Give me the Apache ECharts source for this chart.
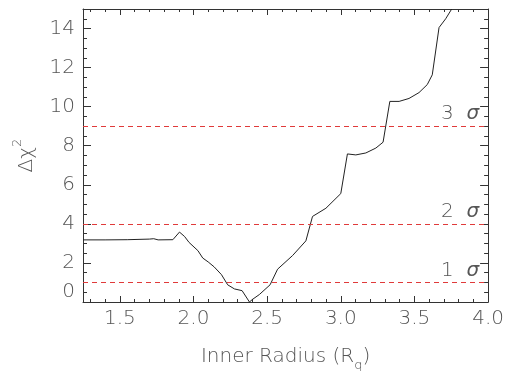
<!DOCTYPE html>
<html>
<head>
<meta charset="utf-8">
<script src="https://cdn.jsdelivr.net/npm/echarts@6/dist/echarts.min.js"></script>
<style>html,body{margin:0;padding:0;background:#fff}#c{width:507px;height:377px}</style>
</head>
<body>
<div id="c"></div>
<script>
// Data
const radius = [1.25,1.40,1.55,1.70,1.73,1.76,1.86,1.905,1.94,1.97,2.03,2.063,2.10,2.14,2.19,2.232,2.278,2.33,2.38,2.40,2.447,2.52,2.571,2.673,2.763,2.808,2.899,3.0,3.045,3.102,3.17,3.238,3.287,3.333,3.396,3.463,3.531,3.587,3.621,3.667,3.712,3.753];
const deltaChi2 = [3.18,3.18,3.19,3.22,3.24,3.18,3.19,3.58,3.35,3.05,2.63,2.25,2.05,1.80,1.40,0.88,0.67,0.58,0.0,0.13,0.38,0.88,1.68,2.38,3.13,4.38,4.80,5.55,7.58,7.53,7.63,7.88,8.18,10.27,10.27,10.42,10.72,11.13,11.63,14.05,14.50,15.0];
const sigmaLevels = [1, 4, 9];
const sigmaNames = ['1', '2', '3'];
const xMajor = [1.5, 2.0, 2.5, 3.0, 3.5, 4.0];
const xMinor = [1.3,1.4,1.6,1.7,1.8,1.9,2.1,2.2,2.3,2.4,2.6,2.7,2.8,2.9,3.1,3.2,3.3,3.4,3.6,3.7,3.8,3.9];
const yMajor = [0, 2, 4, 6, 8, 10, 12, 14];
const yMinor = [0.5,1,1.5,2.5,3,3.5,4.5,5,5.5,6.5,7,7.5,8.5,9,9.5,10.5,11,11.5,12.5,13,13.5,14.5];

const FONT = 'DejaVu Sans';
const FW = 300;
const TXT = '#555';
const AX = '#333';
const DASH = '#e03a3a';
const xr = {min: 1.25, max: 4.0};
const yr = {min: 0, max: 15};

function xAx(pos, vals, len, withLine, withLabel) {
  const a = {
    type: 'value', position: pos, min: xr.min, max: xr.max, gridIndex: 0,
    splitLine: {show: false},
    axisLine: {show: withLine, onZero: false, lineStyle: {color: AX, width: 1}},
    axisTick: {show: true, inside: true, length: len, customValues: vals, lineStyle: {color: AX, width: 1}},
    axisLabel: {show: false}
  };
  if (withLabel) {
    a.axisLabel = {show: true, customValues: vals, margin: 7, fontFamily: FONT, fontWeight: FW, fontSize: 20, color: TXT,
      formatter: v => v.toFixed(1)};
    a.name = '{a|Inner Radius (R}{s|q}{a|)}';
    a.nameLocation = 'middle';
    a.nameGap = 45;
    a.nameTextStyle = {fontFamily: FONT, fontWeight: FW, fontSize: 20, color: TXT,
      rich: {a: {fontFamily: FONT, fontWeight: FW, fontSize: 20, color: TXT, verticalAlign: 'bottom', padding: [0,0,5,0]},
             s: {fontFamily: FONT, fontWeight: FW, fontSize: 13, color: TXT, verticalAlign: 'bottom'}}};
  }
  return a;
}
function yAx(pos, vals, len, withLine, withLabel) {
  const a = {
    type: 'value', position: pos, min: yr.min, max: yr.max, gridIndex: 0,
    splitLine: {show: false},
    axisLine: {show: withLine, onZero: false, lineStyle: {color: AX, width: 1}},
    axisTick: {show: true, inside: true, length: len, customValues: vals, lineStyle: {color: AX, width: 1}},
    axisLabel: {show: false}
  };
  if (withLabel) {
    a.axisLabel = {show: true, customValues: vals, margin: 8, fontFamily: FONT, fontWeight: FW, fontSize: 20, color: TXT,
      formatter: v => v === 0 ? '{z|0}' : String(v),
      rich: {z: {fontFamily: FONT, fontWeight: FW, fontSize: 20, color: TXT, padding: [0,0,20,0]}}};
    a.name = '{a|Δχ}{s|2}';
    a.nameLocation = 'middle';
    a.nameGap = 46;
    a.nameRotate = 90;
    a.nameTextStyle = {fontFamily: FONT, fontWeight: FW, fontSize: 20, color: TXT,
      rich: {a: {fontFamily: FONT, fontWeight: FW, fontSize: 20, color: TXT, verticalAlign: 'bottom', padding: [6,0,0,0]},
             s: {fontFamily: FONT, fontWeight: FW, fontSize: 13, color: TXT, verticalAlign: 'top'}}};
  }
  return a;
}

const points = radius.map((r, i) => [r, deltaChi2[i]]);

const chart = echarts.init(document.getElementById('c'), null, {renderer: 'canvas'});
chart.setOption({
  animation: false,
  backgroundColor: '#fff',
  grid: {left: 83, top: 9, right: 18, bottom: 68, containLabel: false},
  xAxis: [
    xAx('bottom', xMajor, 6, true, true),
    xAx('bottom', xMinor, 3, false, false),
    xAx('top', xMajor, 6, true, false),
    xAx('top', xMinor, 3, false, false)
  ],
  yAxis: [
    yAx('left', yMajor, 8, true, true),
    yAx('left', yMinor, 4, false, false),
    yAx('right', yMajor, 8, true, false),
    yAx('right', yMinor, 4, false, false)
  ],
  series: [{
    type: 'line',
    xAxisIndex: 0, yAxisIndex: 0,
    data: points,
    symbol: 'none',
    lineStyle: {color: '#222', width: 1},
    clip: true,
    markLine: {
      silent: true,
      symbol: ['none', 'none'],
      lineStyle: {color: DASH, width: 1, type: [5, 4], opacity: 1},
      label: {
        show: true, position: 'insideEndTop', distance: [9, 2],
        fontFamily: FONT, fontWeight: FW, fontSize: 20, color: TXT,
        rich: {i: {fontFamily: FONT, fontWeight: FW, fontSize: 20, color: TXT, fontStyle: 'italic'}}
      },
      data: sigmaLevels.map((v, i) => ({
        yAxis: v,
        lineStyle: {color: DASH, width: 1, type: [5, 4], opacity: 1},
        label: {formatter: sigmaNames[i] + '  {i|σ}'}
      }))
    }
  }]
});
</script>
</body>
</html>
